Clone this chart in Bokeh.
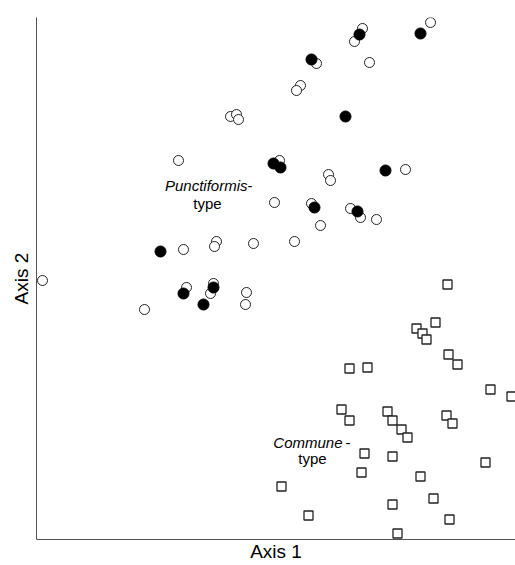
from bokeh.plotting import figure
from bokeh.models import Range1d, FixedTicker
from bokeh.core.properties import value
from bokeh.embed import file_html
from bokeh.resources import INLINE

# Ordination scores (arbitrary axis units)
open_circle_x = [394, 326, 318, 280, 333, 264, 260, 243, 292, 294, 369, 238, 275, 314, 324, 340, 284,
                 258, 194, 200, 202, 142, 147, 180, 178, 217, 6, 150, 177, 174, 210, 209, 108]
open_circle_y = [517, 511, 498, 476, 477, 454, 449, 379, 365, 359, 370, 337, 336, 331, 322, 320, 314,
                 298, 423, 425, 420, 379, 290, 298, 293, 296, 259, 252, 256, 246, 247, 235, 230]

filled_circle_x = [323, 384, 275, 309, 237, 244, 349, 278, 321, 124, 147, 177, 167]
filled_circle_y = [505, 506, 480, 423, 376, 372, 369, 332, 328, 288, 246, 252, 235]

square_x = [411, 399, 380, 386, 390, 412, 421, 313, 331, 454, 475, 305, 313, 351, 356, 365, 371, 410,
            416, 328, 356, 449, 325, 384, 245, 397, 356, 272, 413, 361]
square_y = [255, 217, 211, 206, 200, 185, 175, 171, 172, 150, 143, 130, 119, 128, 119, 110, 102, 124,
            116, 86, 83, 77, 67, 63, 53, 41, 35, 24, 20, 6]

group_labels = ["Punctiformis", "Commune"]
suffix_labels = ["-", "-"]
second_line = ["type", "type"]

FONT = "Liberation Sans"

p = figure(width=515, height=565, output_backend="svg", toolbar_location=None,
           x_range=Range1d(0, 479), y_range=Range1d(0, 522),
           min_border_left=36, min_border_right=0, min_border_top=17, min_border_bottom=26)
p.outline_line_color = None
p.xgrid.visible = False
p.ygrid.visible = False
p.background_fill_color = "white"
p.border_fill_color = "white"

for ax in (p.xaxis[0], p.yaxis[0]):
    ax.ticker = FixedTicker(ticks=[])
    ax.major_tick_out = 0
    ax.major_tick_in = 0
    ax.minor_tick_out = 0
    ax.minor_tick_in = 0
    ax.major_label_standoff = 0
    ax.axis_line_color = "#555555"
    ax.axis_line_width = 1
    ax.axis_label_text_font = FONT
    ax.axis_label_text_font_size = "19px"
    ax.axis_label_text_font_style = "normal"
    ax.axis_label_text_color = "black"
p.xaxis.axis_label_standoff = 1
p.yaxis.axis_label_standoff = 5
p.xaxis.axis_label = "Axis 1"
p.yaxis.axis_label = "Axis 2"

p.scatter(square_x, square_y, marker="square", size=9, fill_color="white",
          line_color="#222222", line_width=1.3)
p.scatter(open_circle_x, open_circle_y, marker="circle", size=10, fill_color="white",
          line_color="#222222", line_width=1)
p.scatter(filled_circle_x, filled_circle_y, marker="circle", size=11, fill_color="black",
          line_color="black", line_width=1)

# Group annotations (italic name + upright hyphen, then "type")
p.text(x=[211, 306], y=[354, 97], text=group_labels, text_align="right", text_baseline="middle",
       text_font=value(FONT), text_font_size="15px", text_font_style="italic", text_color="black")
p.text(x=[211, 309], y=[354, 97], text=suffix_labels, text_align="left", text_baseline="middle",
       text_font=value(FONT), text_font_size="15px", text_color="black")
p.text(x=[171, 276], y=[336, 81], text=second_line, text_align="center", text_baseline="middle",
       text_font=value(FONT), text_font_size="15px", text_color="black")

open("out.html", "w").write(file_html(p, INLINE))
